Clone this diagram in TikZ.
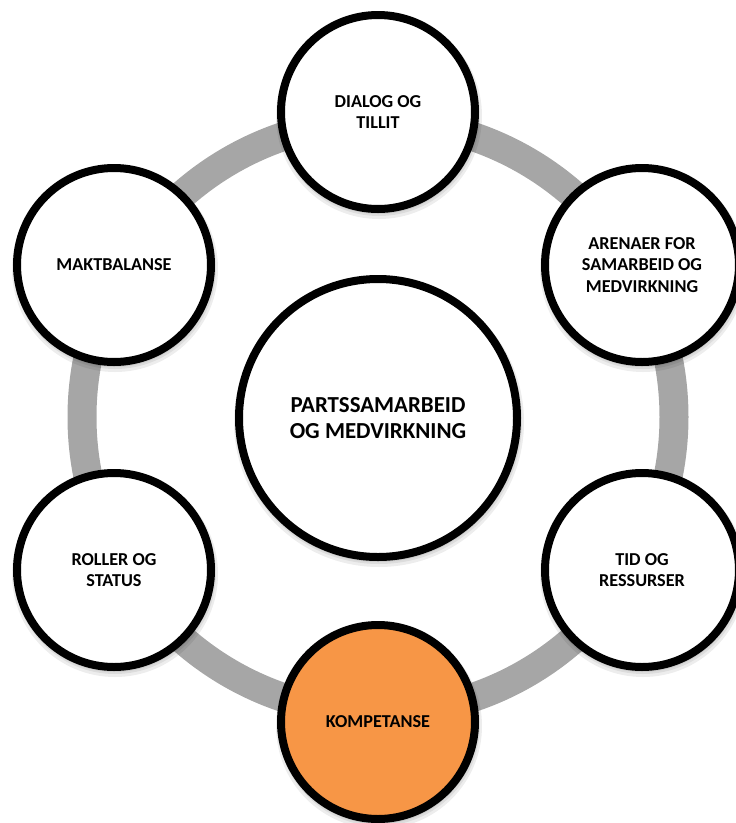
\documentclass[tikz,border=0pt]{standalone}
\usepackage{fontspec}
\setmainfont{Carlito}
\definecolor{ringgray}{HTML}{A6A6A6}
\definecolor{kompOrange}{HTML}{F79646}
\begin{document}
\begin{tikzpicture}[x=1pt,y=-1pt,
  topic/.style={circle, draw=black, line width=8pt, fill=white, minimum size=194pt,
    inner sep=0pt, align=center, text=black,
    font=\fontsize{18.2}{21.5}\selectfont\bfseries},
  hub/.style={topic, minimum size=278pt,
    font=\fontsize{22.9}{25.5}\selectfont\bfseries},
  ringstyle/.style={draw=ringgray, line width=29pt},
  shadowstyle/.style={fill=black, opacity=0.07}]
\useasboundingbox (0,0) rectangle (736,823);
% centre of the ring
\coordinate (rc) at (378,417);
% ring
\draw[ringstyle] (rc) circle (296);
% soft shadows
\foreach \cx/\cy/\r in {378/112/101, 114/265/101, 642/265/101, 114/570/101, 642/570/101, 378/722/101, 378/418/143}{
  \fill[shadowstyle] (\cx+1,\cy+4) circle (\r+2);
  \fill[shadowstyle] (\cx+1,\cy+3) circle (\r);
  \fill[shadowstyle] (\cx+0.5,\cy+2) circle (\r-1);
}
% nodes
\node[hub] (hub) at (378,418) {PARTSSAMARBEID\\OG MEDVIRKNING};
\node[topic] (dialog) at (378,112) {DIALOG OG\\TILLIT};
\node[topic] (arena) at (642,265) {ARENAER FOR\\SAMARBEID OG\\MEDVIRKNING};
\node[topic] (tid) at (642,570) {TID OG\\RESSURSER};
\node[topic, fill=kompOrange] (komp) at (378,722) {KOMPETANSE};
\node[topic] (roller) at (114,570) {ROLLER OG\\STATUS};
\node[topic] (makt) at (114,265) {MAKTBALANSE};
\end{tikzpicture}
\end{document}
